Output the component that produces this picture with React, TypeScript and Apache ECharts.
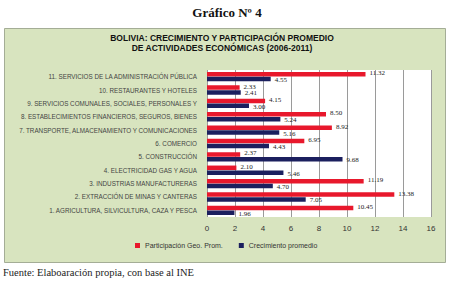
import React, { useEffect, useRef } from "react";
import * as echarts from "echarts";

const categories = [
  "1. AGRICULTURA, SILVICULTURA, CAZA Y PESCA",
  "2. EXTRACCIÓN DE MINAS Y CANTERAS",
  "3. INDUSTRIAS MANUFACTURERAS",
  "4. ELECTRICIDAD GAS Y AGUA",
  "5. CONSTRUCCIÓN",
  "6. COMERCIO",
  "7. TRANSPORTE, ALMACENAMIENTO Y COMUNICACIONES",
  "8. ESTABLECIMIENTOS FINANCIEROS, SEGUROS, BIENES",
  "9. SERVICIOS COMUNALES, SOCIALES, PERSONALES Y",
  "10. RESTAURANTES Y HOTELES",
  "11. SERVICIOS DE LA ADMINISTRACIÓN PÚBLICA",
];
const participacion = [10.45, 13.38, 11.19, 2.1, 2.37, 6.95, 8.92, 8.5, 4.15, 2.33, 11.32];
const crecimiento = [1.96, 7.05, 4.7, 5.46, 9.68, 4.43, 5.16, 5.24, 3.0, 2.41, 4.55];
const xTicks = [0, 2, 4, 6, 8, 10, 12, 14, 16];

const RED = "#e8182c";
const BLUE = "#1b1f5e";
const NAME_RED = "Participación Geo. Prom.";
const NAME_BLUE = "Crecimiento promedio";

export default function App() {
  const ref = useRef<HTMLDivElement>(null);
  useEffect(() => {
    document.body.style.margin = "0";
    const chart = echarts.init(ref.current!, null, { renderer: "svg" });
    const makeLabel = (dy: number) => ({
      show: true,
      position: "right",
      distance: 4,
      offset: [0, dy],
      fontFamily: "Liberation Serif",
      fontSize: 7,
      color: "#222",
      formatter: (p: any) => Number(p.value).toFixed(2),
    });
    chart.setOption({
      animation: false,
      backgroundColor: "#ffffff",
      graphic: [
        {
          type: "rect",
          z: -10,
          shape: { x: 4.5, y: 28.5, width: 441, height: 234 },
          style: { fill: "#d8e4bf", stroke: "#a4ad96", lineWidth: 1 },
        },
        {
          type: "text",
          x: 227,
          y: 12,
          style: {
            text: "Gráfico Nº 4",
            font: "bold 13px 'Liberation Serif'",
            fill: "#111",
            textAlign: "center",
            textVerticalAlign: "middle",
          },
        },
        {
          type: "text",
          x: 222,
          y: 38,
          style: {
            text: "BOLIVIA: CRECIMIENTO Y PARTICIPACIÓN PROMEDIO",
            font: "bold 8.5px 'Liberation Sans'",
            fill: "#111",
            textAlign: "center",
            textVerticalAlign: "middle",
          },
        },
        {
          type: "text",
          x: 222,
          y: 48,
          style: {
            text: "DE ACTIVIDADES ECONÓMICAS (2006-2011)",
            font: "bold 8.5px 'Liberation Sans'",
            fill: "#111",
            textAlign: "center",
            textVerticalAlign: "middle",
          },
        },
        {
          type: "text",
          x: 3,
          y: 272,
          style: {
            text: "Fuente: Elaboaración propia, con base al INE",
            font: "10.5px 'Liberation Serif'",
            fill: "#222",
            textAlign: "left",
            textVerticalAlign: "middle",
          },
        },
      ],
      legend: {
        data: [NAME_RED, NAME_BLUE],
        left: 130,
        top: 237,
        icon: "rect",
        itemWidth: 5,
        itemHeight: 5,
        itemGap: 16,
        textStyle: { fontSize: 7, color: "#333", fontFamily: "Liberation Sans" },
      },
      grid: {
        left: 207,
        right: 18,
        top: 70,
        bottom: 68,
        show: true,
        backgroundColor: "#ffffff",
        borderWidth: 0,
      },
      xAxis: {
        type: "value",
        min: 0,
        max: 16,
        interval: 2,
        axisLine: { show: false },
        axisTick: { show: false },
        splitLine: { show: true, lineStyle: { color: "#9a9a9a", width: 1 } },
        axisLabel: {
          margin: 7,
          fontSize: 8,
          color: "#333",
          fontFamily: "Liberation Sans",
          formatter: (v: number) => (xTicks.includes(v) ? String(v) : ""),
        },
      },
      yAxis: {
        type: "category",
        data: categories,
        axisLine: { show: false },
        axisTick: { show: false },
        axisLabel: {
          margin: 10,
          fontSize: 6.3,
          color: "#444",
          fontFamily: "Liberation Sans",
        },
      },
      series: [
        {
          name: NAME_RED,
          type: "bar",
          data: participacion,
          itemStyle: { color: RED },
          barWidth: 4.5,
          barGap: "8%",
          label: makeLabel(-1),
        },
        {
          name: NAME_BLUE,
          type: "bar",
          data: crecimiento,
          itemStyle: { color: BLUE },
          barWidth: 4.5,
          barGap: "8%",
          label: makeLabel(1),
        },
      ],
    });
    return () => chart.dispose();
  }, []);
  return <div ref={ref} style={{ width: 449, height: 285 }} />;
}
